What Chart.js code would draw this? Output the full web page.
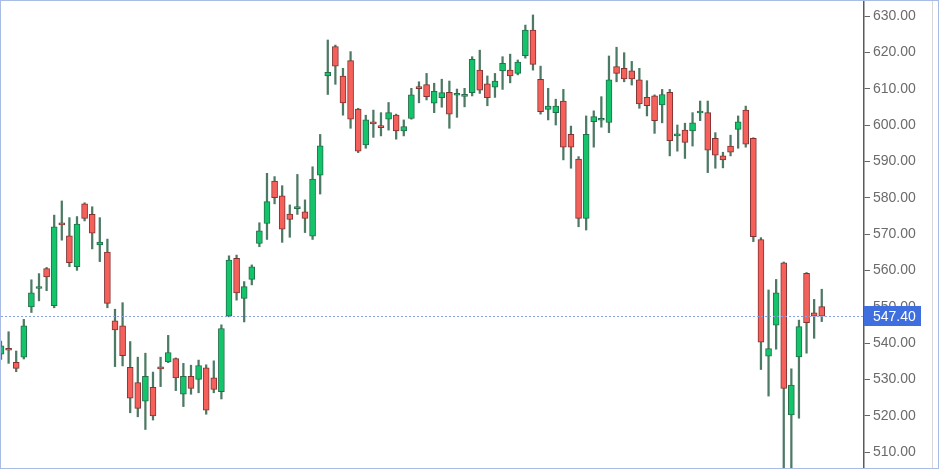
<!DOCTYPE html>
<html>
<head>
<meta charset="utf-8">
<title>Candles</title>
<script src="https://cdn.jsdelivr.net/npm/chart.js@4"></script>
<style>
  html, body { margin: 0; padding: 0; background: #fff; }
  #wrap { position: relative; width: 937px; height: 467px; border: 1px solid #a9bce6; }
  #edge { position: absolute; left: 931px; top: 0; width: 1px; height: 467px; background: #d6d6d6; }
  canvas { display: block; }
</style>
</head>
<body>
<div id="wrap">
  <canvas id="chart" width="937" height="467"></canvas>
  <div id="edge"></div>
</div>
<script>
'use strict';

//*****DATA******/

let opens = [
  536.9, 538.3, 534.7, 536.1, 549.9, 555.0, 560.5, 550.3, 573.0, 569.5,
  561.0, 578.3, 575.4, 567.0, 565.0, 546.1, 544.7, 533.3, 529.1, 524.0,
  527.8, 533.3, 534.8, 535.7, 525.9, 530.8, 530.0, 533.2, 530.4, 526.6,
  547.4, 563.3, 552.3, 557.5, 567.4, 572.9, 584.6, 580.5, 575.5, 577.0,
  576.1, 569.4, 586.2, 613.5, 621.6, 613.5, 617.7, 604.4, 594.5, 600.7,
  599.7, 601.6, 602.7, 598.4, 601.8, 610.4, 611.1, 606.0, 607.5, 609.0,
  608.2, 607.9, 608.9, 615.1, 611.3, 610.4, 614.9, 615.1, 614.2, 619.1,
  626.1, 612.6, 604.3, 603.4, 606.6, 597.4, 590.6, 574.3, 600.9, 601.3,
  600.7, 616.1, 615.6, 614.9, 612.4, 607.6, 608.0, 605.5, 609.0, 597.0,
  598.6, 598.4, 603.3, 603.4, 596.3, 591.5, 594.2, 598.8, 604.1, 596.3,
  568.5, 536.4, 544.9, 562.1, 520.2, 536.2, 559.2, 548.3, 550.0
];
let highs = [
  540.5, 543.1, 537.8, 546.5, 557.4, 559.1, 560.8, 575.2, 579.1, 574.5,
  574.8, 578.6, 577.5, 574.5, 568.6, 549.3, 551.1, 540.4, 536.1, 537.2,
  532.0, 536.1, 542.1, 535.9, 534.4, 533.9, 535.3, 534.0, 535.1, 545.0,
  564.0, 564.2, 556.9, 561.5, 573.1, 586.7, 585.8, 583.3, 578.0, 586.4,
  579.4, 588.5, 597.4, 623.4, 622.0, 615.6, 620.2, 604.6, 602.7, 604.1,
  603.4, 606.2, 603.0, 601.4, 610.1, 611.9, 614.2, 611.5, 612.6, 612.1,
  609.9, 610.1, 618.8, 620.6, 613.5, 614.2, 618.8, 619.5, 617.9, 627.5,
  630.3, 616.2, 610.1, 607.1, 609.8, 599.7, 591.3, 602.5, 603.9, 607.8,
  619.0, 621.4, 619.9, 617.5, 615.6, 612.2, 608.3, 609.8, 609.8, 600.0,
  600.5, 603.4, 606.6, 606.6, 597.9, 592.5, 597.2, 602.5, 605.2, 596.5,
  569.0, 554.6, 557.5, 562.3, 532.9, 546.3, 559.4, 552.0, 554.8
];
let lows = [
  535.5, 534.4, 532.1, 535.6, 548.4, 551.6, 554.4, 549.7, 568.3, 561.0,
  560.0, 573.6, 565.9, 562.4, 549.7, 533.5, 533.7, 520.8, 519.7, 516.2,
  518.8, 528.0, 534.6, 526.9, 522.5, 525.9, 526.3, 520.4, 526.3, 524.6,
  547.2, 551.8, 545.8, 556.0, 566.5, 568.5, 578.3, 567.7, 569.1, 575.4,
  570.4, 568.5, 581.0, 608.4, 611.2, 602.7, 599.1, 592.4, 593.6, 596.6,
  597.0, 598.6, 596.1, 597.0, 601.6, 606.1, 606.9, 603.4, 604.9, 599.1,
  602.1, 605.0, 608.0, 608.7, 605.3, 607.6, 609.8, 611.6, 613.8, 618.4,
  615.1, 603.0, 601.4, 600.0, 590.4, 588.1, 572.0, 571.1, 593.9, 599.4,
  597.9, 611.9, 611.9, 611.0, 604.6, 602.5, 597.7, 600.6, 591.5, 592.8,
  590.8, 594.2, 601.2, 586.9, 588.1, 588.2, 591.5, 593.6, 593.9, 567.9,
  532.7, 525.4, 538.3, 504.0, 504.0, 519.3, 537.2, 541.3, 545.9
];
let closes = [
  539.2, 538.0, 533.0, 544.7, 553.8, 555.3, 558.2, 572.0, 572.5, 562.1,
  572.7, 574.3, 570.2, 567.8, 550.9, 543.6, 536.5, 524.8, 522.0, 530.8,
  519.9, 532.9, 537.4, 530.4, 530.8, 527.5, 533.8, 521.5, 527.2, 544.0,
  562.8, 553.8, 555.5, 561.0, 570.9, 578.9, 580.0, 571.3, 574.0, 577.3,
  574.3, 585.1, 594.3, 614.5, 616.2, 606.1, 601.6, 592.8, 601.4, 600.3,
  599.3, 603.4, 598.4, 599.6, 608.3, 610.0, 607.8, 609.3, 608.9, 603.0,
  608.6, 608.1, 618.1, 609.6, 607.5, 612.1, 617.0, 613.5, 617.3, 626.1,
  616.7, 603.7, 605.2, 605.2, 593.9, 593.9, 574.3, 597.4, 602.3, 601.6,
  612.4, 614.2, 612.7, 612.7, 605.8, 605.3, 601.2, 608.4, 595.7, 597.2,
  595.2, 600.6, 603.5, 593.1, 591.7, 590.4, 592.5, 600.9, 594.7, 569.3,
  540.2, 538.5, 553.8, 527.5, 528.4, 544.5, 545.6, 547.4, 547.4
];

let priceTicks = [510, 520, 530, 540, 550, 560, 570, 580, 590, 600, 610, 620, 630];
let lastPrice = closes[closes.length - 1];

//*****COLOURS******/

let upFill = '#13c46b';
let upLine = '#22704a';
let downFill = '#f5615a';
let downLine = '#823232';
let wickColor = '#4d7a64';

//*****BUILD POINTS******/

let bodyPoints = [];
let wickPoints = [];
for (let i = 0; i < closes.length; i++) {
  bodyPoints.push({ x: i, y: [opens[i], closes[i]] });
  wickPoints.push({ x: i, y: [lows[i], highs[i]] });
}

function isUp(ctx) {
  let i = ctx.dataIndex;
  return closes[i] >= opens[i];
}

//*****LAST PRICE LINE + LABEL******/

let lastPricePlugin = {
  id: 'lastPrice',
  afterDatasetsDraw(chart) {
    let ctx = chart.ctx;
    let area = chart.chartArea;
    let y = Math.round(chart.scales.y.getPixelForValue(lastPrice)) + 0.5;
    ctx.save();
    ctx.strokeStyle = '#86a0ea';
    ctx.lineWidth = 1;
    ctx.setLineDash([2, 2]);
    ctx.beginPath();
    ctx.moveTo(area.left, y);
    ctx.lineTo(area.right, y);
    ctx.stroke();
    ctx.restore();
  },
  afterDraw(chart) {
    let ctx = chart.ctx;
    let area = chart.chartArea;
    let y = chart.scales.y.getPixelForValue(lastPrice);
    ctx.save();
    ctx.fillStyle = '#3f6fdf';
    ctx.fillRect(area.right, Math.round(y) - 10, 57, 20);
    ctx.fillStyle = '#ffffff';
    ctx.font = '14px "Liberation Sans", Arial, sans-serif';
    ctx.textBaseline = 'middle';
    ctx.textAlign = 'left';
    ctx.fillText(lastPrice.toFixed(2), area.right + 9, Math.round(y) + 1);
    ctx.restore();
  }
};

//*****CHART******/

Chart.defaults.font.family = '"Liberation Sans", Arial, sans-serif';

let canvasElem = document.getElementById('chart');

let chartObj = {
  type: 'bar',
  data: {
    datasets: [
      {
        label: 'body',
        data: bodyPoints,
        order: 0,
        barThickness: 6,
        minBarLength: 2,
        borderWidth: 1,
        borderSkipped: false,
        backgroundColor: ctx => isUp(ctx) ? upFill : downFill,
        borderColor: ctx => isUp(ctx) ? upLine : downLine
      },
      {
        label: 'wick',
        data: wickPoints,
        order: 1,
        barThickness: 1.6,
        borderWidth: 0,
        backgroundColor: wickColor
      }
    ]
  },
  options: {
    responsive: false,
    animation: false,
    grouped: false,
    layout: { padding: 0 },
    plugins: {
      legend: { display: false },
      tooltip: { enabled: false }
    },
    scales: {
      x: {
        type: 'linear',
        display: false,
        offset: false,
        grid: { offset: false },
        min: 0,
        max: 113.56
      },
      y: {
        position: 'right',
        min: 505.6,
        max: 634.13,
        grid: {
          drawOnChartArea: false,
          drawTicks: true,
          tickLength: 6,
          color: '#666666'
        },
        border: {
          display: true,
          color: '#5a5a5a',
          width: 1.5
        },
        ticks: {
          stepSize: 10,
          includeBounds: false,
          padding: 3,
          color: '#6b6b6b',
          font: { size: 14 },
          callback: v => priceTicks.includes(v) ? v.toFixed(2) : ''
        },
        afterFit(scale) {
          scale.width = 74;
          scale.paddingTop = 0;
          scale.paddingBottom = 0;
        }
      }
    }
  },
  plugins: [lastPricePlugin]
};

new Chart(canvasElem, chartObj);
</script>
</body>
</html>
